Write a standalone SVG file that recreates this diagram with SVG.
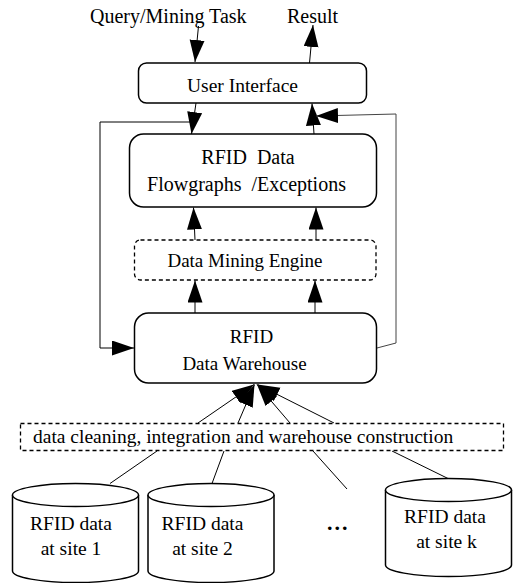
<svg xmlns="http://www.w3.org/2000/svg" width="515" height="583" viewBox="0 0 515 583">
<style>
text{font-family:"Liberation Serif","Times New Roman",serif;fill:#000;}
.box{fill:#fff;stroke:#000;stroke-width:1.5;}
.dash{fill:#fff;stroke:#000;stroke-width:1.3;stroke-dasharray:4,3;}
.c{fill:none;stroke:#000;stroke-width:1;}
.g{fill:none;stroke:#444;stroke-width:1;}
.m{text-anchor:middle;}
</style>
<defs>
<marker id="ah" markerUnits="userSpaceOnUse" markerWidth="23" markerHeight="16" refX="22" refY="7.5" orient="auto">
<path d="M0,0 L22,7.5 L0,15 z" fill="#000"/>
</marker>
</defs>
<rect width="515" height="583" fill="#fff"/>
<g id="labels">
<text x="90" y="23" font-size="20">Query/Mining Task</text>
<text x="287" y="23" font-size="20">Result</text>
</g>
<g id="connectors">
<line class="c" x1="198.5" y1="26" x2="195" y2="62" marker-end="url(#ah)"/>
<line class="c" x1="309.5" y1="63" x2="313" y2="25" marker-end="url(#ah)"/>
<line class="c" x1="196" y1="103" x2="191.5" y2="134" marker-end="url(#ah)"/>
<line class="c" x1="314" y1="134" x2="312" y2="103.5" marker-end="url(#ah)"/>
<line class="c" x1="195" y1="240" x2="193.5" y2="207.5" marker-end="url(#ah)"/>
<line class="c" x1="316" y1="240" x2="316" y2="207.5" marker-end="url(#ah)"/>
<line class="c" x1="195" y1="313" x2="195" y2="280.5" marker-end="url(#ah)"/>
<line class="c" x1="315" y1="313" x2="315" y2="280.5" marker-end="url(#ah)"/>
<polyline class="c" points="193,122 100,122 100,348 134,348" marker-end="url(#ah)"/>
<polyline class="g" points="377,348 396,343 396,114 316,116" marker-end="url(#ah)"/>
<line class="c" x1="198" y1="423" x2="254" y2="384.5" marker-end="url(#ah)"/>
<line class="c" x1="238" y1="423" x2="254.5" y2="384.5" marker-end="url(#ah)"/>
<line class="c" x1="290" y1="423" x2="257" y2="384.5" marker-end="url(#ah)"/>
<line class="c" x1="334" y1="423" x2="257.5" y2="384.5" marker-end="url(#ah)"/>
<line class="c" x1="110" y1="483.5" x2="157" y2="451"/>
<line class="c" x1="212" y1="483.5" x2="224" y2="451"/>
<line class="c" x1="347" y1="489" x2="313" y2="451"/>
<line class="c" x1="448" y1="478.5" x2="392" y2="451"/>
</g>
<g id="ui">
<rect class="box" x="138.5" y="63" width="228" height="40" rx="8"/>
<text class="m" x="242.5" y="91.5" font-size="19.5">User Interface</text>
</g>
<g id="flowgraphs">
<rect class="box" x="129.5" y="134" width="247" height="73" rx="14"/>
<text class="m" x="248" y="164" font-size="20" xml:space="preserve">RFID  Data</text>
<text class="m" x="246.5" y="190.5" font-size="20" xml:space="preserve">Flowgraphs  /Exceptions</text>
</g>
<g id="dme">
<rect class="dash" x="134.5" y="240" width="241.5" height="40" rx="6"/>
<text class="m" x="245" y="266.5" font-size="19">Data Mining Engine</text>
</g>
<g id="dw">
<rect class="box" x="134.5" y="313" width="242" height="70" rx="14"/>
<text class="m" x="251.5" y="343" font-size="19">RFID</text>
<text class="m" x="244.5" y="370" font-size="19">Data Warehouse</text>
</g>
<g id="cleaning">
<rect class="dash" x="20.5" y="423.5" width="483" height="27"/>
<text x="33" y="443" font-size="19.5">data cleaning, integration and warehouse construction</text>
</g>
<g id="site1">
<path class="box" d="M12.5,495 L12.5,571 A63,11.5 0 0 0 138.5,571 L138.5,495"/>
<ellipse class="box" cx="75.5" cy="495" rx="63" ry="11.5"/>
<text class="m" x="71" y="530" font-size="19.5">RFID data</text>
<text class="m" x="71" y="555" font-size="19.5">at site 1</text>
</g>
<g id="site2">
<path class="box" d="M148,495 L148,571 A63,11.5 0 0 0 274,571 L274,495"/>
<ellipse class="box" cx="211" cy="495" rx="63" ry="11.5"/>
<text class="m" x="202.5" y="530" font-size="19.5">RFID data</text>
<text class="m" x="202.5" y="555" font-size="19.5">at site 2</text>
</g>
<g id="ellipsis">
<text x="327" y="530" font-size="22" font-weight="bold" letter-spacing="2">...</text>
</g>
<g id="sitek">
<path class="box" d="M385.5,490 L385.5,565 A63,11.5 0 0 0 511.5,565 L511.5,490"/>
<ellipse class="box" cx="448.5" cy="490" rx="63" ry="11.5"/>
<text class="m" x="445" y="523" font-size="19.5">RFID data</text>
<text class="m" x="446.5" y="548" font-size="19.5">at site k</text>
</g>
</svg>
